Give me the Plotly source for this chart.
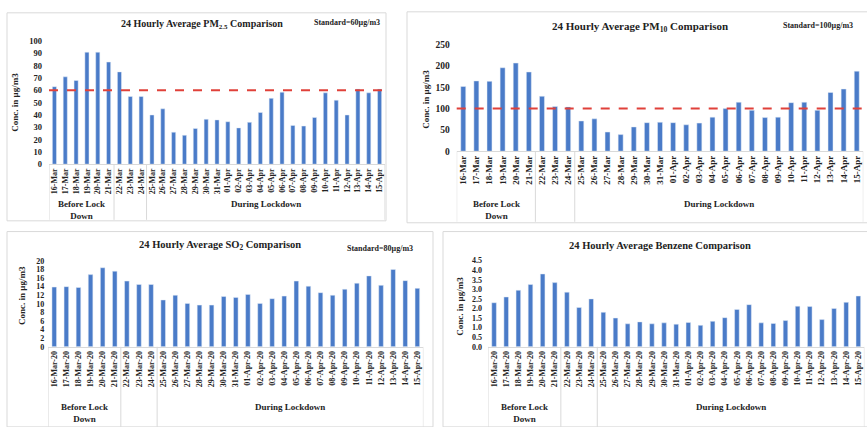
import plotly.graph_objects as go

dates = ["16-Mar", "17-Mar", "18-Mar", "19-Mar", "20-Mar", "21-Mar", "22-Mar", "23-Mar",
         "24-Mar", "25-Mar", "26-Mar", "27-Mar", "28-Mar", "29-Mar", "30-Mar", "31-Mar",
         "01-Apr", "02-Apr", "03-Apr", "04-Apr", "05-Apr", "06-Apr", "07-Apr", "08-Apr",
         "09-Apr", "10-Apr", "11-Apr", "12-Apr", "13-Apr", "14-Apr", "15-Apr"]
dates_yr = [d + "-20" for d in dates]

groups = ["Before Lock<br>Down", "", "During Lockdown"]
group_sizes = [6, 3, 22]

pm25 = [63, 71, 68, 91, 91, 83, 75, 55, 55, 40, 45, 26, 23.5, 29, 36.5, 36, 34.5, 29.5, 34,
        42, 53.5, 58.5, 31.5, 31, 38, 58, 52, 40, 61, 58, 61]
pm10 = [152, 165, 164, 196, 207, 186, 129, 105, 104, 71, 76, 45, 39, 57, 67, 68, 67, 62, 66,
        80, 100, 115, 96, 79, 80, 114, 115, 96, 138, 146, 188]
so2 = [13.9, 14.0, 13.8, 16.8, 18.4, 17.6, 15.3, 14.5, 14.5, 10.9, 12.0, 10.1, 9.7, 9.7, 11.7,
       11.5, 12.2, 10.1, 11.2, 11.8, 15.3, 14.1, 12.6, 12.0, 13.4, 14.8, 16.5, 14.3, 18.0, 15.4, 13.6]
benzene = [2.3, 2.6, 2.95, 3.25, 3.8, 3.35, 2.85, 2.05, 2.5, 1.8, 1.5, 1.2, 1.3, 1.2, 1.25, 1.18,
           1.27, 1.12, 1.33, 1.52, 1.95, 2.2, 1.25, 1.22, 1.37, 2.12, 2.1, 1.42, 2.0, 2.32, 2.65]

titles = ["24 Hourly Average PM<sub>2.5</sub> Comparison",
          "24 Hourly Average PM<sub>10</sub> Comparison",
          "24 Hourly Average SO<sub>2</sub> Comparison",
          "24 Hourly Average Benzene Comparison"]
standards_text = ["Standard=60µg/m3", "Standard=100µg/m3", "Standard=80µg/m3", ""]
standard_vals = [60, 100, None, None]
y_ranges = [[0, 100], [0, 250], [0, 20], [0, 4.5]]
y_dticks = [10, 50, 2, 0.5]
y_title = "Conc. in µg/m3"

W, H = 867, 427
FONT = "Liberation Serif"
BAR = "#4a7bc8"
GRID = "#d9d9d9"

def px(x):
    return x / W

def py(y):
    return 1 - y / H

# panel geometry (pixels)
panels = [
    dict(xd=(49, 385), yd=(163, 37), box=(7, 8, 386, 221), div_bottom=220,
         title=(202, 20, 10), std=(347, 18), ytitle=(15, 100), grp_y=(202, 212),
         tick_size=8, ysize=8.5, data=pm25, labels=dates, standoff=6),
    dict(xd=(456.7, 863.3), yd=(149.7, 40.7), box=(407, 7, 872, 223), div_bottom=222,
         title=(640, 23, 11), std=(818, 21), ytitle=(426, 97), grp_y=(202, 213),
         tick_size=9, ysize=9.5, data=pm10, labels=dates, standoff=6),
    dict(xd=(48.2, 423.4), yd=(350, 262), box=(7, 232, 433, 432), div_bottom=432,
         title=(220, 246, 10.5), std=(380, 249), ytitle=(22, 298), grp_y=(409, 420),
         tick_size=8, ysize=8, data=so2, labels=dates_yr, standoff=3),
    dict(xd=(488, 864.4), yd=(350, 261.7), box=(443, 232, 872, 432), div_bottom=432,
         title=(660, 246, 10.5), std=(800, 249), ytitle=(460, 308), grp_y=(409, 421),
         tick_size=8, ysize=8, data=benzene, labels=dates_yr, standoff=5),
]

fig = go.Figure()
shapes = []
annotations = []

for i, p in enumerate(panels):
    n = i + 1
    xa = "x" if n == 1 else f"x{n}"
    ya = "y" if n == 1 else f"y{n}"
    fig.add_trace(go.Bar(x=p["labels"], y=p["data"], marker_color=BAR, width=0.38,
                         xaxis=xa, yaxis=ya, showlegend=False, hoverinfo="x+y"))
    xkey = "xaxis" if n == 1 else f"xaxis{n}"
    ykey = "yaxis" if n == 1 else f"yaxis{n}"
    fig.update_layout(**{
        xkey: dict(domain=[px(p["xd"][0]), px(p["xd"][1])], anchor=ya, type="category",
                   range=[-0.5, len(p["labels"]) - 0.5], tickangle=-90,
                   showline=True, linecolor=GRID, linewidth=1, showgrid=False, ticks="",
                   tickfont=dict(family=FONT, size=p["tick_size"], color="#222", weight="bold"),
                   fixedrange=True),
        ykey: dict(domain=[py(p["yd"][0]), py(p["yd"][1])], anchor=xa, range=y_ranges[i],
                   dtick=y_dticks[i], tickformat=".1f" if i == 3 else "d",
                   showline=False, showgrid=False, zeroline=False, ticks="",
                   ticklabelstandoff=p["standoff"],
                   tickfont=dict(family=FONT, size=p["ysize"], color="#222", weight="bold"),
                   fixedrange=True),
    })
    # panel border
    bx0, by0, bx1, by1 = p["box"]
    shapes.append(dict(type="rect", xref="paper", yref="paper", x0=px(bx0), x1=px(bx1),
                       y0=py(by1), y1=py(by0), line=dict(color=GRID, width=1), layer="below"))
    # group divider lines
    xref_name = xa
    pos = -0.5
    bounds = [pos]
    for s in group_sizes:
        pos += s
        bounds.append(pos)
    for b in bounds:
        shapes.append(dict(type="line", xref=xref_name, yref="paper", x0=b, x1=b,
                           y0=py(p["yd"][0]), y1=py(p["div_bottom"]),
                           line=dict(color=GRID, width=1)))
    # group labels
    start = -0.5
    for g, s in zip(groups, group_sizes):
        if g:
            annotations.append(dict(text=g, xref=xref_name, yref="paper", x=start + s / 2,
                                    y=py(p["grp_y"][0] - 5), yanchor="top", showarrow=False,
                                    font=dict(family=FONT, size=9, color="#222", weight="bold"),
                                    align="center"))
        start += s
    # standard line
    if standard_vals[i] is not None:
        shapes.append(dict(type="line", xref=f"{xa} domain", yref=ya, x0=0, x1=1,
                           y0=standard_vals[i], y1=standard_vals[i],
                           line=dict(color="#e0413a", width=2, dash="dash")))
    # title
    tx, ty, ts = p["title"]
    annotations.append(dict(text=titles[i], xref="paper", yref="paper", x=px(tx), y=py(ty),
                            showarrow=False, xanchor="center", yanchor="middle",
                            font=dict(family=FONT, size=ts, color="#222", weight="bold")))
    if standards_text[i]:
        sx, sy = p["std"]
        annotations.append(dict(text=standards_text[i], xref="paper", yref="paper", x=px(sx),
                                y=py(sy), showarrow=False, xanchor="center", yanchor="middle",
                                font=dict(family=FONT, size=8, color="#222", weight="bold")))
    # y axis title
    yx, yy = p["ytitle"]
    annotations.append(dict(text=y_title, xref="paper", yref="paper", x=px(yx), y=py(yy),
                            showarrow=False, textangle=-90, xanchor="center", yanchor="middle",
                            font=dict(family=FONT, size=9, color="#222", weight="bold")))

fig.update_layout(width=W, height=H, margin=dict(l=0, r=0, t=0, b=0),
                  paper_bgcolor="white", plot_bgcolor="white",
                  shapes=shapes, annotations=annotations, bargap=0.6,
                  font=dict(family=FONT))

fig.write_html("out.html", config={"displayModeBar": False},
               post_script="document.body.style.margin='0';document.body.style.overflow='hidden';")
